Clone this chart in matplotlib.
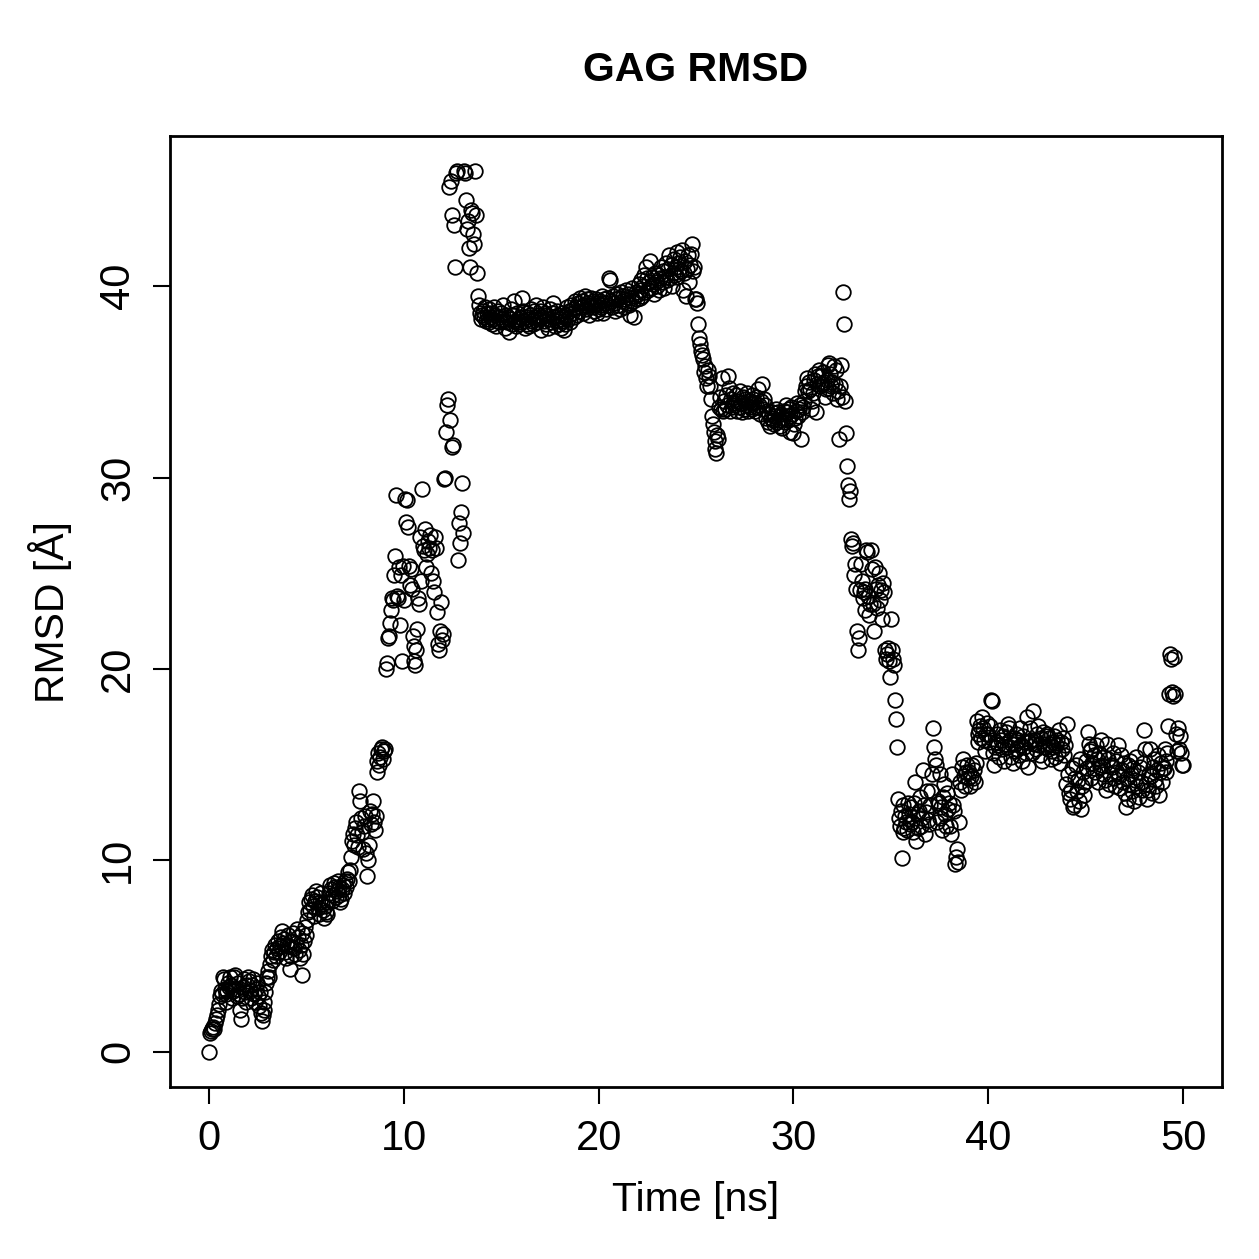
import numpy as np
import matplotlib
matplotlib.use("Agg")
import matplotlib.pyplot as plt

# -----------------------------
# Data: RMSD [A] sampled every 0.05 ns, one row per ns
# -----------------------------
DT = 0.05

rmsd_00_05 = [
    0.0, 1.0, 1.1, 1.2, 1.3, 1.2, 1.5, 1.7, 1.9, 2.2, 2.5, 2.9, 3.2, 3.0, 3.9, 3.8, 3.3, 3.0, 2.6, 3.2,
    3.6, 3.4, 3.9, 3.5, 2.8, 3.2, 3.9, 4.0, 3.3, 2.9, 3.6, 3.0, 2.2, 1.7, 2.8, 3.4, 3.8, 3.1, 2.6, 3.5,
    3.9, 3.7, 3.2, 2.8, 3.5, 3.8, 3.0, 2.6, 3.3, 3.6, 2.9, 2.4, 3.1, 2.0, 1.6, 1.9, 2.6, 2.2, 3.1, 3.6,
    3.9, 4.2, 3.9, 4.6, 5.0, 5.3, 4.8, 5.2, 5.6, 5.0, 5.4, 5.8, 5.2, 5.5, 6.0, 6.3, 5.7, 5.9, 5.2, 4.9,
    5.6, 6.1, 5.5, 4.3, 5.0, 5.8, 6.2, 5.4, 5.1, 5.7, 6.4, 6.0, 5.3, 4.9, 5.6, 6.2, 4.0, 5.1, 5.8, 6.5,
]
rmsd_05_10 = [
    6.1, 6.9, 7.3, 7.8, 7.4, 8.0, 8.2, 7.6, 7.1, 7.9, 8.4, 8.1, 7.5, 7.2, 7.8, 8.3, 7.7, 7.4, 7.0, 7.6,
    7.3, 7.2, 7.8, 8.3, 8.7, 8.5, 7.9, 8.2, 8.8, 8.6, 8.1, 8.4, 8.9, 8.6, 8.2, 7.8, 8.0, 8.5, 8.7, 8.3,
    8.9, 8.6, 9.0, 9.4, 8.9, 9.5, 10.2, 11.0, 11.4, 10.8, 11.7, 12.0, 11.3, 10.7, 13.6, 13.1, 12.2, 11.5, 10.6, 11.8,
    12.3, 10.4, 9.2, 10.0, 10.8, 12.6, 11.9, 12.4, 13.1, 12.0, 11.6, 12.3, 14.6, 15.2, 15.6, 15.0, 15.4, 15.8, 15.9, 15.3,
    15.7, 15.8, 20.0, 20.3, 21.6, 21.7, 22.4, 23.1, 23.7, 23.6, 24.9, 25.9, 29.1, 23.8, 23.7, 25.3, 22.3, 24.9, 20.4, 25.4,
]
rmsd_10_15 = [
    23.6, 28.9, 27.7, 28.8, 27.4, 25.4, 24.4, 25.2, 24.2, 21.7, 21.2, 20.4, 20.2, 21.0, 22.1, 23.7, 23.4, 26.9, 24.6, 29.4,
    26.4, 26.2, 27.3, 25.3, 26.0, 26.7, 26.3, 27.0, 25.0, 26.2, 24.6, 24.0, 26.9, 26.3, 23.0, 21.3, 21.0, 22.0, 23.5, 21.5,
    21.8, 29.9, 30.0, 32.4, 33.8, 34.1, 45.2, 33.0, 45.5, 31.6, 43.7, 31.7, 43.2, 41.0, 45.9, 46.0, 25.7, 27.6, 26.6, 28.2,
    29.7, 27.1, 46.0, 45.9, 44.5, 43.0, 43.4, 42.0, 41.0, 44.0, 43.8, 42.7, 42.2, 46.0, 43.7, 40.7, 39.5, 39.0, 38.6, 38.3,
    38.5, 38.7, 38.4, 38.9, 38.2, 38.6, 38.3, 38.8, 38.1, 38.4, 38.6, 38.0, 38.3, 38.9, 38.5, 37.9, 38.2, 38.7, 38.4, 38.1,
]
rmsd_15_20 = [
    38.6, 38.3, 39.0, 38.2, 37.8, 38.5, 38.1, 38.4, 37.6, 38.3, 38.8, 38.0, 38.5, 39.2, 38.2, 37.9, 38.6, 38.3, 38.0, 38.4,
    38.1, 39.4, 38.7, 38.2, 37.8, 38.4, 38.0, 38.6, 38.3, 37.9, 38.5, 38.8, 38.2, 38.0, 38.7, 38.4, 39.0, 38.1, 38.5, 38.3,
    38.7, 37.7, 38.4, 38.9, 38.2, 38.6, 38.0, 38.5, 37.8, 38.3, 38.8, 38.1, 38.6, 39.1, 38.4, 37.9, 38.2, 38.7, 38.5, 38.0,
    38.3, 37.8, 38.6, 38.2, 37.7, 38.4, 38.0, 38.5, 38.9, 38.3, 38.7, 38.1, 39.0, 38.6, 38.8, 38.4, 39.2, 38.9, 38.5, 39.1,
    38.7, 39.4, 38.9, 39.2, 38.6, 39.0, 39.5, 38.8, 39.3, 39.1, 38.5, 39.0, 39.4, 38.9, 39.2, 38.7, 39.0, 39.3, 38.6, 39.1,
]
rmsd_20_25 = [
    38.8, 39.2, 38.9, 39.5, 39.0, 38.6, 39.3, 39.1, 38.8, 39.4, 39.0, 40.4, 40.3, 39.2, 38.9, 39.5, 39.1, 38.7, 39.3, 39.6,
    39.0, 39.4, 38.8, 39.7, 39.2, 39.5, 38.9, 39.3, 39.8, 39.1, 39.6, 39.0, 38.5, 39.4, 39.9, 39.2, 38.4, 39.5, 39.7, 39.3,
    39.6, 40.1, 39.4, 39.8, 40.3, 39.5, 40.0, 40.6, 39.7, 41.0, 40.4, 39.8, 40.2, 41.3, 39.9, 40.5, 40.1, 39.6, 40.7, 40.2,
    40.0, 40.6, 39.8, 40.4, 41.0, 40.2, 40.8, 39.9, 40.5, 41.2, 40.3, 40.9, 41.6, 40.4, 41.1, 40.0, 40.7, 41.4, 40.6, 41.0,
    41.8, 40.5, 41.2, 40.9, 41.5, 40.8, 41.9, 39.8, 40.7, 41.3, 39.5, 40.9, 41.6, 40.2, 41.1, 41.7, 42.2, 40.8, 41.0, 39.3,
]
rmsd_25_30 = [
    39.3, 39.1, 38.0, 37.3, 37.0, 36.6, 36.4, 36.2, 35.5, 35.8, 35.2, 34.8, 35.6, 35.3, 34.8, 34.1, 33.2, 32.8, 32.4, 31.9,
    31.5, 31.3, 32.2, 32.0, 33.7, 34.2, 33.6, 35.2, 33.5, 34.0, 33.6, 34.3, 33.8, 35.3, 34.7, 33.5, 34.1, 33.7, 34.4, 33.9,
    33.8, 34.3, 33.5, 34.0, 33.7, 34.5, 33.9, 33.4, 34.2, 33.6, 34.1, 33.8, 34.4, 33.5, 34.0, 33.7, 33.9, 34.3, 33.6, 34.1,
    33.9, 33.5, 34.2, 33.7, 34.6, 33.8, 33.3, 34.0, 34.9, 33.6, 34.1, 33.8, 33.1, 33.5, 32.9, 33.3, 32.7, 33.1, 33.4, 33.0,
    32.8, 33.2, 33.6, 32.9, 33.4, 33.0, 32.7, 33.3, 32.6, 33.1, 33.5, 32.9, 33.8, 33.4, 33.0, 33.6, 33.2, 32.4, 33.7, 33.3,
]
rmsd_30_35 = [
    32.3, 32.8, 33.1, 33.5, 33.9, 33.2, 33.6, 33.8, 32.0, 33.4, 33.7, 34.0, 34.5, 34.8, 35.2, 34.5, 35.0, 34.6, 33.6, 34.0,
    34.4, 35.1, 35.4, 33.4, 34.9, 35.3, 35.6, 34.8, 35.3, 34.9, 35.5, 35.0, 34.2, 34.6, 35.1, 34.7, 35.9, 36.0, 35.4, 34.8,
    35.0, 34.4, 35.8, 34.9, 35.6, 34.1, 34.5, 32.0, 34.8, 35.9, 34.2, 39.7, 38.0, 34.0, 32.3, 30.6, 29.6, 28.9, 29.3, 26.8,
    26.4, 26.6, 24.9, 25.5, 24.2, 22.0, 21.0, 21.6, 24.1, 25.5, 24.6, 23.7, 24.0, 23.1, 24.2, 26.2, 26.1, 23.8, 22.8, 23.4,
    26.2, 25.2, 23.4, 22.0, 25.3, 24.2, 23.2, 24.4, 25.0, 23.6, 24.1, 22.6, 24.5, 24.0, 21.0, 20.5, 20.8, 21.1, 20.4, 19.6,
]
rmsd_35_40 = [
    22.6, 21.0, 20.5, 20.2, 18.4, 17.4, 15.9, 13.2, 12.2, 11.8, 12.6, 10.1, 11.5, 12.9, 11.7, 12.3, 12.0, 11.6, 13.0, 12.4,
    11.9, 12.8, 12.0, 11.5, 13.0, 14.1, 11.0, 12.4, 11.7, 12.6, 13.3, 11.8, 12.2, 14.7, 12.9, 11.4, 12.5, 13.6, 12.1, 11.9,
    12.9, 13.6, 14.5, 16.9, 15.9, 15.3, 15.0, 12.0, 13.1, 13.0, 14.5, 12.2, 12.8, 11.6, 13.3, 14.0, 12.4, 11.8, 13.5, 12.7,
    13.0, 11.8, 11.4, 14.5, 12.9, 12.6, 9.8, 10.2, 10.6, 9.9, 12.0, 14.1, 13.7, 14.9, 15.3, 14.4, 13.9, 14.6, 15.0, 14.3,
    14.6, 13.9, 14.4, 15.0, 14.3, 14.7, 14.1, 15.1, 17.3, 16.6, 16.2, 16.8, 17.0, 16.4, 17.5, 16.9, 16.3, 15.7, 16.6, 17.2,
]
rmsd_40_45 = [
    16.6, 16.2, 17.0, 18.4, 18.3, 15.6, 15.0, 15.9, 16.2, 16.6, 16.0, 15.4, 16.8, 16.3, 15.8, 16.5, 15.2, 16.1, 16.7, 15.9,
    17.1, 16.9, 16.3, 15.4, 16.1, 15.1, 16.4, 15.7, 16.1, 16.6, 15.8, 16.3, 15.5, 16.9, 16.0, 15.2, 16.5, 15.9, 16.2, 15.6,
    17.5, 14.9, 16.2, 16.9, 16.3, 15.6, 17.8, 16.1, 16.3, 15.8, 16.6, 17.0, 16.0, 15.5, 16.4, 15.2, 16.7, 16.1, 15.9, 16.5,
    16.6, 15.8, 16.4, 16.1, 15.3, 15.7, 16.2, 15.9, 16.5, 15.4, 16.0, 16.3, 15.6, 16.8, 15.1, 16.2, 15.8, 16.4, 15.5, 16.0,
    14.0, 17.1, 14.5, 13.5, 13.2, 13.7, 14.8, 12.8, 12.9, 14.3, 15.0, 13.6, 14.2, 13.1, 15.3, 12.7, 13.9, 14.6, 13.4, 14.1,
]
rmsd_45_50 = [
    15.2, 14.8, 16.7, 16.1, 15.7, 14.3, 15.8, 15.1, 14.8, 15.5, 14.6, 16.0, 15.3, 14.1, 15.6, 14.9, 16.3, 15.0, 14.5, 15.4,
    14.2, 13.7, 16.1, 15.3, 14.0, 14.5, 15.0, 14.9, 15.6, 14.3, 13.9, 15.2, 14.6, 16.0, 14.4, 13.8, 15.5, 14.7, 14.1, 15.1,
    13.5, 12.8, 14.3, 13.2, 15.0, 14.0, 15.2, 14.5, 13.6, 14.8, 13.1, 14.2, 15.4, 13.9, 14.6, 13.3, 14.9, 14.1, 13.7, 15.1,
    16.8, 15.8, 14.0, 13.2, 13.7, 14.5, 15.8, 14.4, 13.5, 14.9, 15.3, 14.2, 13.9, 14.7, 15.5, 13.4, 14.6, 15.1, 14.1, 14.8,
    14.8, 15.8, 15.2, 14.6, 15.6, 17.0, 18.7, 20.8, 20.5, 18.8, 18.6, 20.6, 18.7, 16.6, 15.7, 16.9, 15.8, 16.5, 15.6, 15.0,
    15.0,
]

rmsd = np.array(rmsd_00_05 + rmsd_05_10 + rmsd_10_15 + rmsd_15_20 + rmsd_20_25
                + rmsd_25_30 + rmsd_30_35 + rmsd_35_40 + rmsd_40_45 + rmsd_45_50)
time_ns = np.arange(len(rmsd)) * DT  # frame index -> ns

x_ticks = [0, 10, 20, 30, 40, 50]
y_ticks = [0, 10, 20, 30, 40]

# -----------------------------
# Plot (R base-graphics look)
# -----------------------------
plt.rcParams["font.family"] = ["Liberation Sans", "DejaVu Sans"]

W = H = 1259
fig = plt.figure(figsize=(W / 100, H / 100), dpi=100)
ax = fig.add_axes([170 / W, 1 - 1087 / H, (1222 - 170) / W, (1087 - 136) / H])

ax.plot(time_ns, rmsd, linestyle="none", marker="o", markersize=10.5,
        markerfacecolor="none", markeredgecolor="black", markeredgewidth=1.3)

# R pads the data range by 4% on each side
xr = time_ns.max() - time_ns.min()
yr = rmsd.max() - rmsd.min()
ax.set_xlim(time_ns.min() - 0.04 * xr, time_ns.max() + 0.04 * xr)
ax.set_ylim(rmsd.min() - 0.04 * yr, rmsd.max() + 0.04 * yr)

for s in ax.spines.values():
    s.set_linewidth(2.0)

ax.set_xticks(x_ticks)
ax.set_yticks(y_ticks)
ax.set_xticklabels([str(v) for v in x_ticks])
ax.set_yticklabels([str(v) for v in y_ticks], rotation=90, va="center")
ax.tick_params(direction="out", length=12, width=1.5, labelsize=30, pad=11)

fig.text(0.5 * (170 + 1222) / W, 1 - 70 / H, "GAG RMSD", ha="center", va="center",
         fontsize=29.5, fontweight="bold")
fig.text(0.5 * (170 + 1222) / W, 1 - 1200 / H, "Time [ns]", ha="center", va="center",
         fontsize=29.5)
fig.text(50 / W, 1 - 612 / H, "RMSD [Å]", ha="center", va="center",
         rotation=90, fontsize=29.5)

fig.savefig("out.png", dpi=100)
